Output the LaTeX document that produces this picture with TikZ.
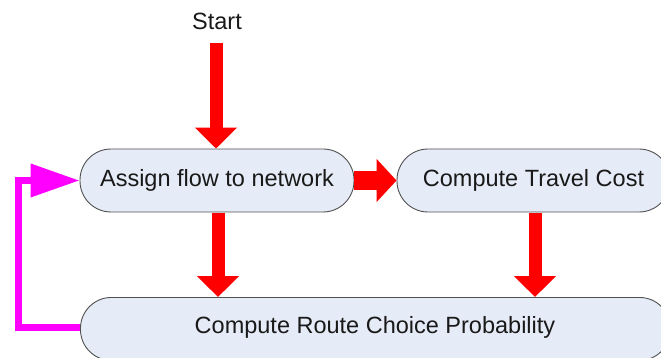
\documentclass[tikz,border=0pt]{standalone}
\usepackage{fontspec}
\setmainfont{Liberation Sans}
\usetikzlibrary{arrows.meta}
\definecolor{boxfill}{HTML}{E6ECF7}
\definecolor{boxline}{HTML}{505050}
\definecolor{loopcol}{HTML}{FF00FF}
\definecolor{arrred}{HTML}{FF0000}
\tikzset{
  flowbox/.style={draw=boxline, line width=0.9pt, fill=boxfill, rounded corners=31pt,
    font=\fontsize{23.5}{26}\selectfont, text=black!90, inner sep=0pt},
  fatv/.style={draw=arrred, line width=13pt, -{Triangle[width=41pt,length=21pt]}, arrred},
  fath/.style={draw=arrred, line width=19pt, -{Triangle[width=42pt,length=20pt]}, arrred},
  loop/.style={draw=loopcol, line width=7pt, -{Triangle[width=32pt,length=49pt]}, loopcol}
}
\begin{document}
\begin{tikzpicture}[x=1pt,y=-1pt]
\useasboundingbox (0,0) rectangle (661,358);
\clip (0,0) rectangle (661,358);
\node[font=\fontsize{23.5}{26}\selectfont, text=black!90] (start) at (217,21) {Start};
\node[flowbox, minimum width=274pt, minimum height=63pt] (assign) at (217,180.5) {Assign flow to network};
\node[flowbox, minimum width=273pt, minimum height=63pt] (cost) at (533.5,180.5) {Compute Travel Cost};
\node[flowbox, minimum width=590pt, minimum height=63pt, anchor=north west] (route) at (80,297) {};
\node[font=\fontsize{23.5}{26}\selectfont, text=black!90] (routelbl) at (375,327) {Compute Route Choice Probability};
\coordinate (s1) at (216,43);
\draw[fatv] (s1) -- (assign.north -| s1);
\coordinate (a1) at (218,213);
\draw[fatv] (a1) -- (a1 |- route.north);
\coordinate (c1) at (535,213);
\draw[fatv] (c1) -- (c1 |- route.north);
\draw[fath] (assign.east) -- (cost.west);
\coordinate (r1) at (80,327);
\draw[loop] (r1) -- (18,327) -- (18,180.5) -- (assign.west);
\end{tikzpicture}
\end{document}
